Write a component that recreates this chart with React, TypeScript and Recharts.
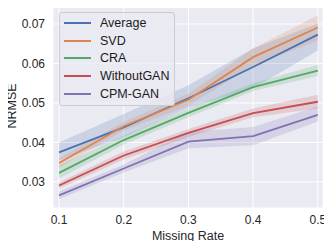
import {
  ComposedChart,
  Line,
  Area,
  XAxis,
  YAxis,
  CartesianGrid,
} from "recharts";

const rates = [0.1, 0.2, 0.3, 0.4, 0.5];
const xTicks = [0.1, 0.2, 0.3, 0.4, 0.5];
const yTicks = [0.03, 0.04, 0.05, 0.06, 0.07];

const avg = [0.0375, 0.0438, 0.0512, 0.0591, 0.0673];
const avgLo = [0.0355, 0.0413, 0.0488, 0.0537, 0.0633];
const avgHi = [0.04, 0.0472, 0.0545, 0.0638, 0.0701];

const svd = [0.0348, 0.0441, 0.0508, 0.0616, 0.0691];
const svdLo = [0.0336, 0.043, 0.0493, 0.0595, 0.0658];
const svdHi = [0.036, 0.0452, 0.0523, 0.0638, 0.0722];

const cra = [0.0323, 0.0406, 0.0475, 0.054, 0.0582];
const craLo = [0.0309, 0.0395, 0.0464, 0.053, 0.0568];
const craHi = [0.0342, 0.0417, 0.0486, 0.055, 0.0597];

const woGan = [0.0291, 0.0367, 0.0424, 0.0474, 0.0503];
const woGanLo = [0.0283, 0.0357, 0.0414, 0.0464, 0.0486];
const woGanHi = [0.0299, 0.0377, 0.0434, 0.0486, 0.0521];

const cpm = [0.0266, 0.0334, 0.0402, 0.0416, 0.047];
const cpmLo = [0.0256, 0.0324, 0.0385, 0.0393, 0.0453];
const cpmHi = [0.0276, 0.0344, 0.0427, 0.0439, 0.0491];

const series = [
  { key: "avg", name: "Average", color: "#4c72b0", v: avg, lo: avgLo, hi: avgHi },
  { key: "svd", name: "SVD", color: "#dd8452", v: svd, lo: svdLo, hi: svdHi },
  { key: "cra", name: "CRA", color: "#55a868", v: cra, lo: craLo, hi: craHi },
  { key: "wo", name: "WithoutGAN", color: "#c44e52", v: woGan, lo: woGanLo, hi: woGanHi },
  { key: "cpm", name: "CPM-GAN", color: "#8172b3", v: cpm, lo: cpmLo, hi: cpmHi },
];

const data = rates.map((r, i) => {
  const row: Record<string, any> = { rate: r };
  series.forEach((s) => {
    row[s.key] = s.v[i];
    row[s.key + "Band"] = [s.lo[i], s.hi[i]];
  });
  return row;
});

const font = "'Liberation Sans', Arial, sans-serif";

function LegendBox() {
  return (
    <div
      style={{
        position: "absolute",
        left: 59,
        top: 12,
        background: "rgba(234,234,242,0.8)",
        border: "1px solid #cccccc",
        borderRadius: 3,
        padding: "1px 4px 2px 4px",
        fontFamily: font,
        fontSize: 12.5,
        color: "#1a1a1a",
        width: 116,
        boxSizing: "border-box",
      }}
    >
      {series.map((s) => (
        <div key={s.key} style={{ display: "flex", alignItems: "center", height: 17.8 }}>
          <div style={{ width: 27, height: 2, flexShrink: 0, background: s.color, marginRight: 9 }} />
          <span style={{ whiteSpace: "nowrap" }}>{s.name}</span>
        </div>
      ))}
    </div>
  );
}

const axisTitle = {
  position: "absolute" as const,
  fontFamily: font,
  fontSize: 12.5,
  color: "#262626",
  whiteSpace: "nowrap" as const,
  lineHeight: "14px",
};

export default function App() {
  return (
    <div style={{ margin: -8, position: "relative", width: 332, height: 249, overflow: "hidden" }}>
      <ComposedChart
        width={332}
        height={249}
        data={data}
        margin={{ top: 5, right: 9, bottom: 0, left: 0 }}
      >
        <CartesianGrid fill="#eaeaf2" stroke="#ffffff" strokeWidth={1} />
        <XAxis
          dataKey="rate"
          type="number"
          domain={[0.0907, 0.508]}
          ticks={xTicks}
          height={41}
          axisLine={false}
          tickLine={false}
          tick={{ fill: "#262626", fontSize: 12, fontFamily: font }}
          tickMargin={1}
        />
        <YAxis
          type="number"
          domain={[0.0234, 0.0748]}
          ticks={yTicks}
          width={53}
          axisLine={false}
          tickLine={false}
          tick={{ fill: "#262626", fontSize: 12, fontFamily: font }}
          tickMargin={2}
        />
        {series.map((s) => (
          <Area
            key={s.key + "Band"}
            dataKey={s.key + "Band"}
            stroke="none"
            fill={s.color}
            fillOpacity={0.2}
            legendType="none"
            isAnimationActive={false}
            activeDot={false}
          />
        ))}
        {series.map((s) => (
          <Line
            key={s.key}
            dataKey={s.key}
            name={s.name}
            stroke={s.color}
            strokeWidth={1.8}
            dot={false}
            isAnimationActive={false}
          />
        ))}
      </ComposedChart>
      <div style={{ ...axisTitle, left: 188, top: 229, transform: "translateX(-50%)" }}>Missing Rate</div>
      <div
        style={{
          ...axisTitle,
          left: 12,
          top: 106,
          transform: "translate(-50%, -50%) rotate(-90deg)",
        }}
      >
        NRMSE
      </div>
      <LegendBox />
    </div>
  );
}
